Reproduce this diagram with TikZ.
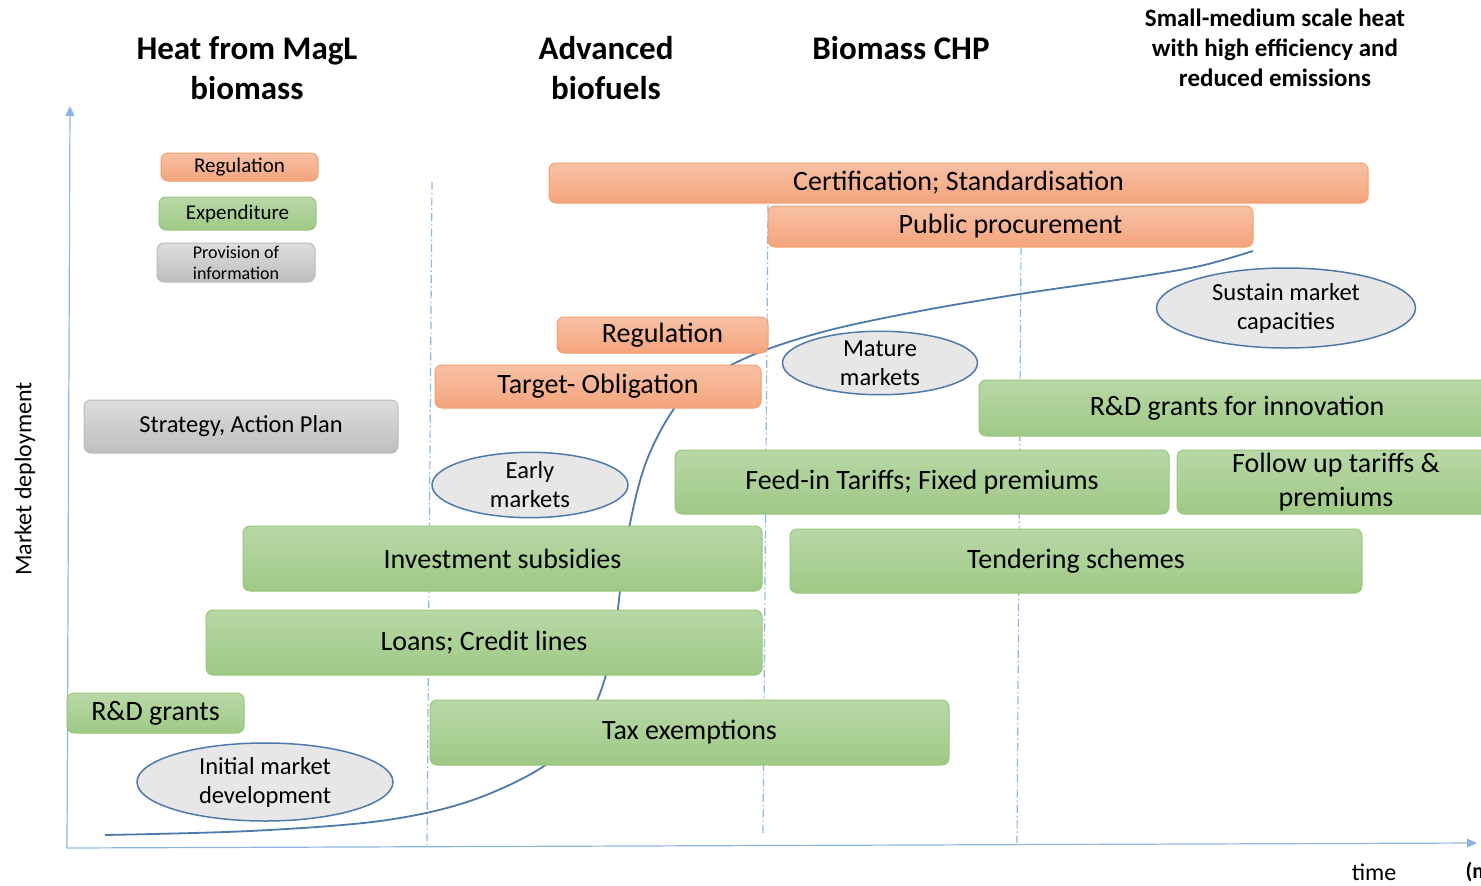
\documentclass[tikz,border=0pt]{standalone}
\usepackage{fontspec}
\setmainfont{Carlito}
\usetikzlibrary{shapes.geometric,arrows.meta}
\definecolor{orT}{HTML}{F7C1A5}
\definecolor{orB}{HTML}{F4A47C}
\definecolor{orD}{HTML}{F2A070}
\definecolor{grT}{HTML}{B8D8A7}
\definecolor{grB}{HTML}{9FC985}
\definecolor{grD}{HTML}{98C67D}
\definecolor{gyT}{HTML}{DDDDDD}
\definecolor{gyB}{HTML}{BEBEBE}
\definecolor{gyD}{HTML}{BBBBBB}
\definecolor{axisc}{HTML}{8DB5E3}
\definecolor{curvec}{HTML}{4C7AAA}
\definecolor{ellf}{HTML}{E7E7E7}
\begin{document}
\begin{tikzpicture}[x=1pt,y=-1pt,
  box/.style={rectangle, rounded corners=7pt, line width=1pt, inner sep=0pt, align=center, font=\fontsize{28}{34}\selectfont},
  regbox/.style={box, draw=orD, top color=orT, bottom color=orB},
  expbox/.style={box, draw=grD, top color=grT, bottom color=grB},
  infobox/.style={box, draw=gyD, top color=gyT, bottom color=gyB},
  legtext/.style={font=\fontsize{21}{21}\selectfont},
  phase/.style={ellipse, draw=curvec, line width=1.5pt, fill=ellf, inner sep=0pt, align=center, font=\fontsize{24.5}{29}\selectfont},
  head/.style={font=\bfseries\fontsize{33}{40}\selectfont, align=center},
  headsmall/.style={font=\bfseries\fontsize{25}{30}\selectfont, align=center},
  axisline/.style={draw=axisc, line width=1.2pt, -{Triangle[length=10pt,width=9pt]}},
  phaseline/.style={draw=axisc, line width=1.2pt, dash pattern=on 8pt off 3pt on 1.5pt off 3pt},
  axlabel/.style={font=\fontsize{24}{25}\selectfont}
]
\path[use as bounding box, clip] (0,0) rectangle (1481,886);

% axes
\coordinate (o) at (67,848);
\coordinate (ytop) at (70,106);
\coordinate (xend) at (1477,843);
\draw[axisline] (o) -- (ytop);
\draw[axisline] (o) -- (xend);

% phase separators
\coordinate (d1t) at (432,182); \coordinate (d1b) at (427,848);
\coordinate (d2t) at (768,205); \coordinate (d2b) at (763,836);
\coordinate (d3t) at (1021,247); \coordinate (d3b) at (1017,843);
\draw[phaseline] (d1t) -- (d1b);
\draw[phaseline] (d2t) -- (d2b);
\draw[phaseline] (d3t) -- (d3b);

% market curve
\draw[curvec, line width=1.8pt] plot[smooth, tension=0.55] coordinates {
 (105,835) (250,831) (380,821) (470,801) (547,764) (590,715) (612,650) (626,545)
 (645,465) (676,406) (712,376) (760,352) (830,330) (920,311) (1020,294) (1130,278) (1200,266) (1253,251)};

% headings
\node[head] (h1) at (247,68) {Heat from MagL\\biomass};
\node[head] (h2) at (606,68) {Advanced\\biofuels};
\node[head] (h3) at (901,48) {Biomass CHP};
\node[headsmall] (h4) at (1275,48) {Small-medium scale heat\\with high efficiency and\\reduced emissions};

% legend
\node[regbox, legtext, minimum width=157pt, minimum height=28pt] (legreg) at (239.5,167) {Regulation};
\node[expbox, legtext, minimum width=157pt, minimum height=33pt] (legexp) at (237.5,213.5) {Expenditure};
\node[infobox, font=\fontsize{18}{21}\selectfont, minimum width=158pt, minimum height=39pt] (leginfo) at (236,262.5) {Provision of\\information};

% regulation boxes
\node[regbox, minimum width=819pt, minimum height=40pt] (cert) at (958.5,183) {Certification; Standardisation};
\node[regbox, minimum width=485pt, minimum height=41pt] (pub) at (1010.5,226.5) {Public procurement};
\node[regbox, minimum width=211pt, minimum height=36pt] (reg) at (662.5,335) {Regulation};
\node[regbox, minimum width=326pt, minimum height=43pt] (target) at (598,386.5) {Target- Obligation};

% information
\node[infobox, font=\fontsize{24.4}{28}\selectfont, minimum width=314pt, minimum height=53pt] (strat) at (241,426.5) {Strategy, Action Plan};

% expenditure boxes
\node[expbox, minimum width=516pt, minimum height=56pt] (rdinn) at (1237,408) {R\&D grants for innovation};
\node[expbox, minimum width=494pt, minimum height=64pt] (feed) at (922,482) {Feed-in Tariffs; Fixed premiums};
\node[expbox, minimum width=318pt, minimum height=64pt] (follow) at (1336,482) {Follow up tariffs \&\\premiums};
\node[expbox, minimum width=519pt, minimum height=65pt] (inv) at (502.5,558.5) {Investment subsidies};
\node[expbox, minimum width=572pt, minimum height=64pt] (tender) at (1076,561) {Tendering schemes};
\node[expbox, minimum width=556pt, minimum height=65pt] (loans) at (484,642.5) {Loans; Credit lines};
\node[expbox, minimum width=177pt, minimum height=40pt] (rdg) at (155.5,713) {R\&D grants};
\node[expbox, minimum width=519pt, minimum height=65pt] (tax) at (689.5,732.5) {Tax exemptions};

% market phases
\node[phase, minimum width=256pt, minimum height=78pt] (init) at (265,782) {Initial market\\development};
\node[phase, minimum width=196pt, minimum height=58pt] (early) at (530,485) {Early\\markets};
\node[phase, minimum width=195pt, minimum height=58pt] (mature) at (880,363) {Mature\\markets};
\node[phase, minimum width=259pt, minimum height=80pt] (sustain) at (1286,308) {Sustain market\\capacities};

% axis labels
\node[axlabel, rotate=90] (ylab) at (25,479) {Market deployment};
\node[axlabel] (xlab) at (1374,872) {time};
\node[axlabel, font=\bfseries\fontsize{22}{25}\selectfont, anchor=west] (unit) at (1462,872) {(m};
\end{tikzpicture}
\end{document}
